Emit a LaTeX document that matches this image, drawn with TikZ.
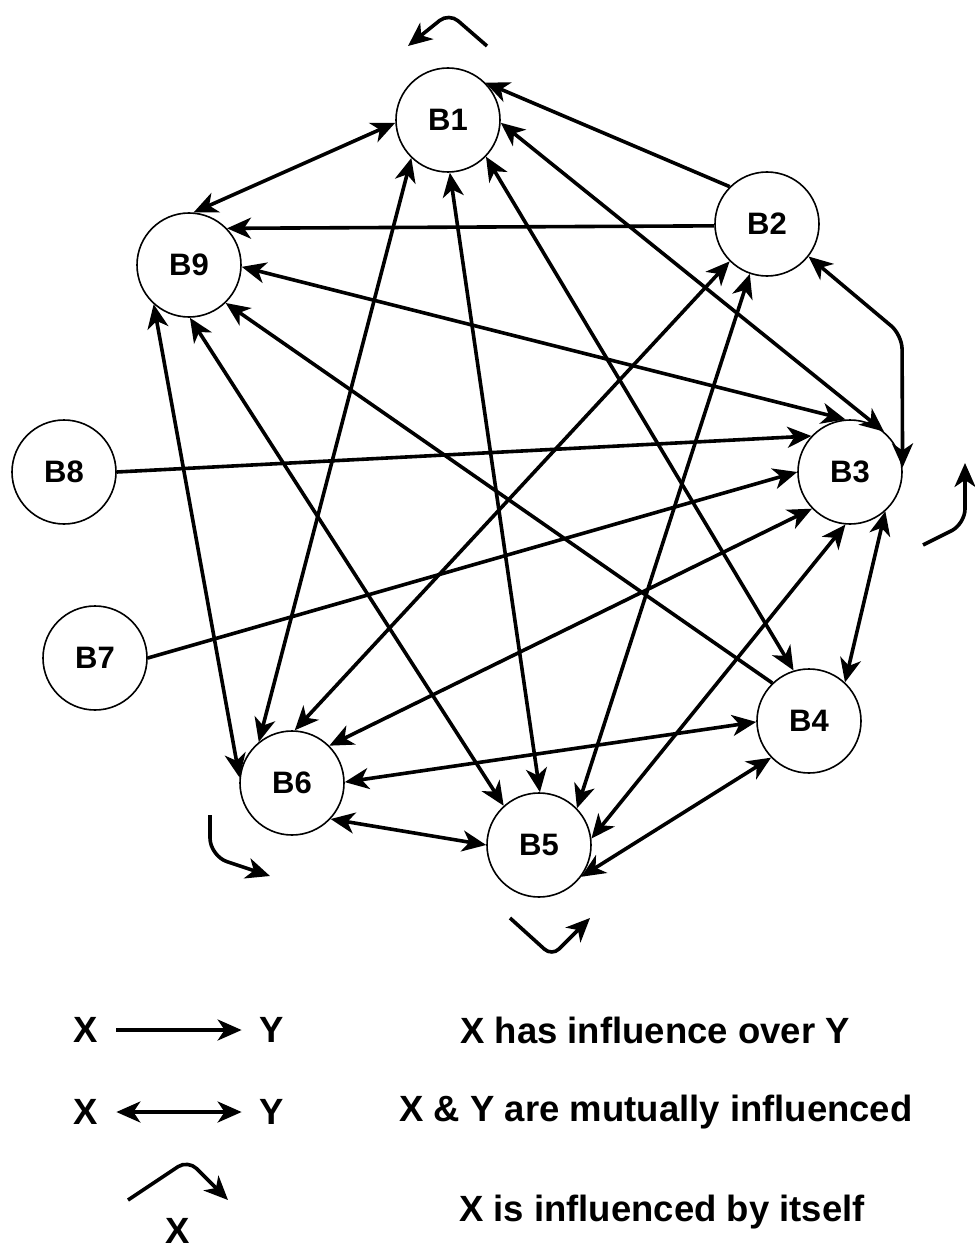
\documentclass[tikz,border=0pt]{standalone}
\usepackage{fontspec}
\setmainfont{Liberation Sans}
\usetikzlibrary{arrows.meta}
\begin{document}
\begin{tikzpicture}[x=1pt,y=-1pt,
  bnode/.style={circle,draw,fill=white,line width=1.6pt,minimum size=104pt,inner sep=0pt,
    font=\fontsize{31}{36}\selectfont\bfseries},
  lgtext/.style={inner sep=0pt,font=\fontsize{36.5}{42}\selectfont\bfseries},
  tipA/.tip={Stealth[length=24pt 0 0,width=21pt 0 0,inset=7pt 0 0]},
  one/.style={line width=3.6pt,-tipA},
  two/.style={line width=3.6pt,tipA-tipA}
]
\useasboundingbox (0,0) rectangle (974,1249);

% nodes
\node[bnode] (B1) at (448,120) {B1};
\node[bnode] (B2) at (767,224) {B2};
\node[bnode] (B3) at (850,472) {B3};
\node[bnode] (B4) at (809,721) {B4};
\node[bnode] (B5) at (539,845) {B5};
\node[bnode] (B6) at (292,783) {B6};
\node[bnode] (B7) at (95,658) {B7};
\node[bnode] (B8) at (64,472) {B8};
\node[bnode] (B9) at (189,265) {B9};

% connectors
\draw[two] (B1.183) -- (B9.85);
\draw[one] (B2.135) -- (B1.45);
\draw[one] (B2.182) -- (B9.44);
\draw[two] (B1.-3) -- (B3.50);
\draw[two] (B9.-2) -- (B3.95);
\coordinate (k23) at (902,335);
\draw[two,rounded corners=14pt] (B2.-38) -- (k23) -- (B3.5);
\draw[one] (B8.0) -- (B3.137);
\draw[one] (B7.0) -- (B3.180);
\draw[two] (B6.45) -- (B3.224);
\draw[two] (B3.265) -- (B5.7);
\draw[two] (B3.-48) -- (B4.47);
\draw[two] (B1.-44) -- (B4.107);
\draw[one] (B4.134) -- (B9.-46);
\draw[two] (B9.271) -- (B5.132);
\draw[two] (B9.228) -- (B6.174);
\draw[two] (B1.226) -- (B6.129);
\draw[two] (B1.272) -- (B5.89);
\draw[two] (B2.225) -- (B6.87);
\draw[two] (B2.251) -- (B5.44);
\draw[two] (B4.181) -- (B6.1);
\draw[two] (B6.-43) -- (B5.180);
\draw[two] (B4.224) -- (B5.-37);

% self loops
\coordinate (l1a) at (487,46);
\coordinate (l1b) at (449,13);
\coordinate (l1c) at (408,46);
\draw[one,rounded corners=12pt] (l1a) -- (l1b) -- (l1c);
\coordinate (l3a) at (923,545);
\coordinate (l3b) at (965,524);
\coordinate (l3c) at (965,463);
\draw[one,rounded corners=15pt] (l3a) -- (l3b) -- (l3c);
\coordinate (l6a) at (210,815);
\coordinate (l6b) at (210,856);
\coordinate (l6c) at (270,876);
\draw[one,rounded corners=18pt] (l6a) -- (l6b) -- (l6c);
\coordinate (l5a) at (510,918);
\coordinate (l5b) at (552,956);
\coordinate (l5c) at (590,918);
\draw[one,rounded corners=10pt] (l5a) -- (l5b) -- (l5c);

% legend
\node[lgtext] (lx1) at (86,1030) {X};
\node[lgtext] (ly1) at (272,1030) {Y};
\draw[one,shorten <=18pt,shorten >=18pt] (lx1.east) -- (ly1.west);
\node[lgtext] (lt1) at (655,1030) {X has influence over Y};

\node[lgtext] (lx2) at (86,1112) {X};
\node[lgtext] (ly2) at (272,1112) {Y};
\draw[two,shorten <=18pt,shorten >=18pt] (lx2.east) -- (ly2.west);
\node[lgtext] (lt2) at (656,1112) {X \& Y are mutually influenced};

\coordinate (lga) at (128,1200);
\coordinate (lgb) at (188,1160);
\coordinate (lgc) at (228,1200);
\draw[one,rounded corners=12pt] (lga) -- (lgb) -- (lgc);
\node[lgtext] (lx3) at (178,1231) {X};
\node[lgtext] (lt3) at (662,1212) {X is influenced by itself};
\end{tikzpicture}
\end{document}
